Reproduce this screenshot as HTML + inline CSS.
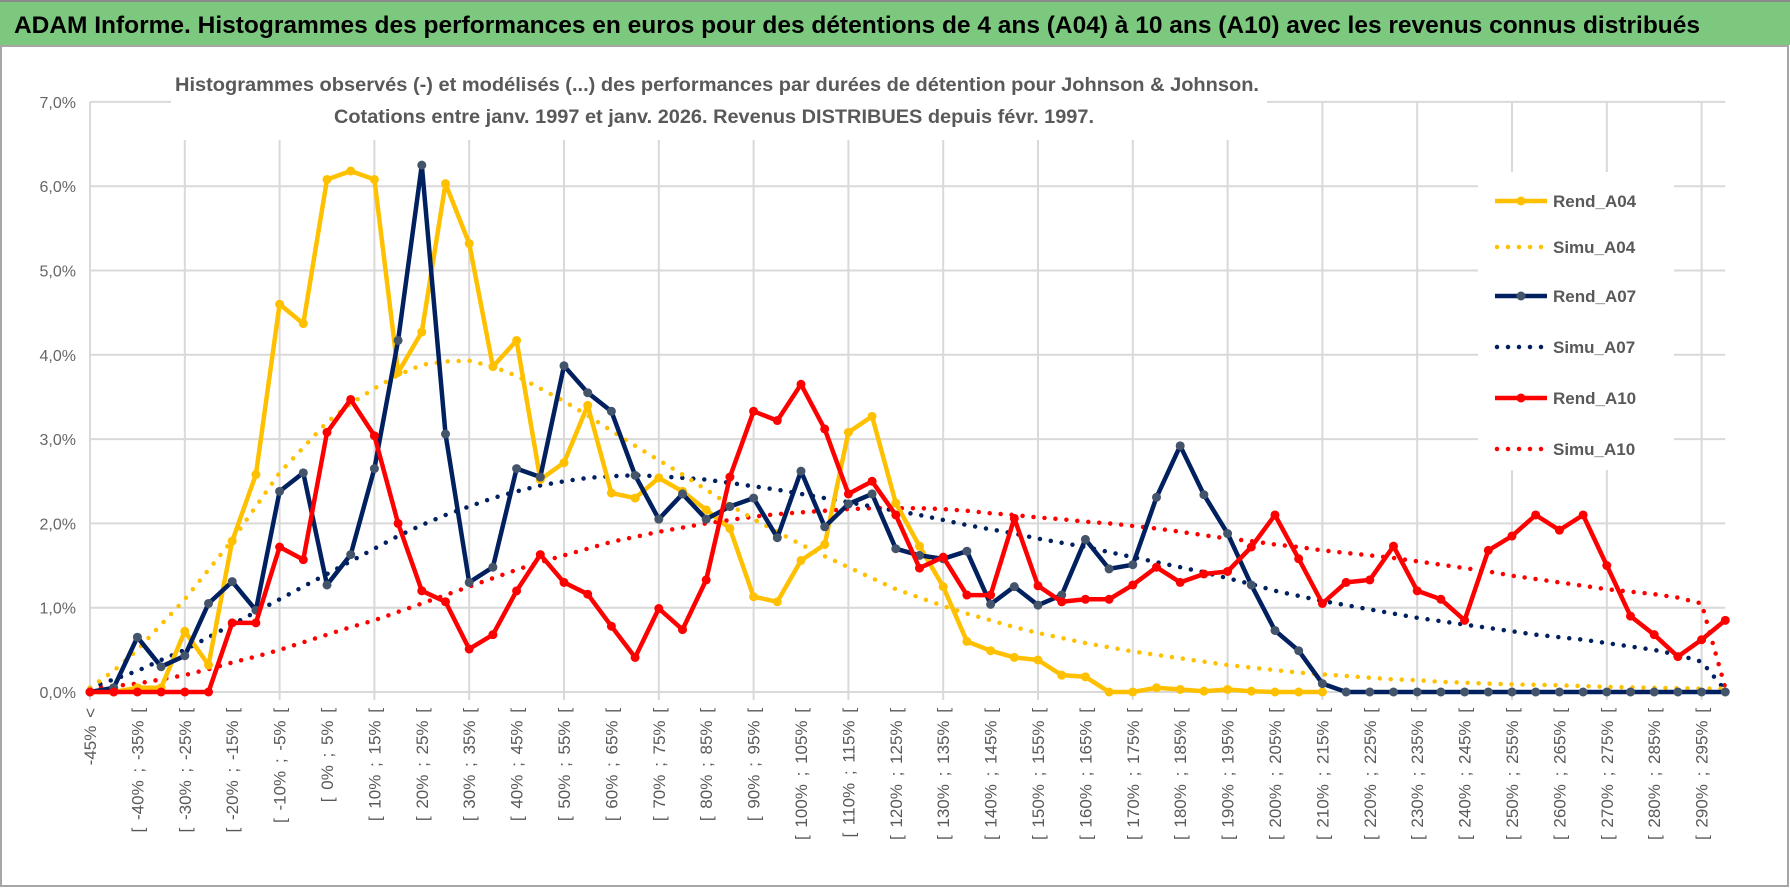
<!DOCTYPE html>
<html><head><meta charset="utf-8"><style>
html,body{margin:0;padding:0;background:#fff;}
svg{display:block;font-family:"Liberation Sans",sans-serif;}
</style></head><body>
<svg id="chart" width="1790" height="888" viewBox="0 0 1790 888" xmlns="http://www.w3.org/2000/svg">
<rect x="0" y="0" width="1790" height="888" fill="#fff"/>
<rect x="1" y="46" width="1787" height="840" fill="none" stroke="#a6a6a6" stroke-width="2"/>
<rect x="0" y="2" width="1790" height="43" fill="#7dc87f"/>
<rect x="0" y="0" width="1790" height="2" fill="#8a8a8a"/>
<text x="14" y="33" font-size="24" font-weight="bold" fill="#000" textLength="1686" lengthAdjust="spacingAndGlyphs">ADAM Informe. Histogrammes des performances en euros pour des détentions de 4 ans (A04) à 10 ans (A10) avec les revenus connus distribués</text>
<g id="grid"></g>
<g id="yaxis"></g>
<g id="xaxis"></g>
<g id="series"></g>
<rect x="171" y="64" width="1096" height="76" fill="#fff"/>
<text x="717" y="91" text-anchor="middle" font-size="19" font-weight="bold" fill="#595959" textLength="1084" lengthAdjust="spacingAndGlyphs">Histogrammes observés (-) et modélisés (...) des performances par durées de détention pour Johnson &amp; Johnson.</text>
<text x="714" y="123" text-anchor="middle" font-size="19" font-weight="bold" fill="#595959" textLength="760" lengthAdjust="spacingAndGlyphs">Cotations entre janv. 1997 et janv. 2026. Revenus DISTRIBUES depuis févr. 1997.</text>
<g id="legend"></g>
</svg>
<script>
const categories = (function(){ const c=["-45% <"]; for(let b=-45;b<300;b+=5){ c.push("[ "+b+"% ; "+(b+5)+"% ["); } return c; })();
const yTicks = [0,1,2,3,4,5,6,7];
const yTickLabels = ["0,0%","1,0%","2,0%","3,0%","4,0%","5,0%","6,0%","7,0%"];
const rendA04 = [0,0,0.05,0.05,0.72,0.32,1.79,2.58,4.6,4.37,6.08,6.18,6.08,3.79,4.27,6.03,5.32,3.86,4.17,2.52,2.72,3.4,2.36,2.3,2.54,2.38,2.16,1.94,1.13,1.07,1.56,1.75,3.08,3.27,2.24,1.73,1.25,0.6,0.49,0.41,0.38,0.2,0.18,0,0,0.05,0.03,0.01,0.03,0.01,0,0,0];
const simuA04 = [0.05,0.25,0.5,0.8,1.1,1.45,1.8,2.2,2.6,2.9,3.2,3.42,3.6,3.76,3.88,3.92,3.93,3.86,3.75,3.6,3.45,3.28,3.1,2.92,2.75,2.58,2.4,2.22,2.05,1.9,1.75,1.61,1.48,1.35,1.22,1.12,1.02,0.93,0.85,0.77,0.7,0.64,0.58,0.53,0.48,0.44,0.4,0.36,0.32,0.29,0.26,0.23,0.21,0.19,0.17,0.15,0.14,0.12,0.11,0.1,0.09,0.085,0.08,0.07,0.06,0.055,0.05,0.045,0.04,0.04];
const rendA07 = [0,0.05,0.65,0.3,0.43,1.05,1.31,0.97,2.38,2.6,1.27,1.63,2.65,4.17,6.25,3.06,1.3,1.48,2.65,2.55,3.87,3.55,3.33,2.57,2.05,2.35,2.05,2.2,2.3,1.83,2.62,1.96,2.23,2.35,1.7,1.62,1.58,1.67,1.04,1.25,1.03,1.15,1.81,1.46,1.51,2.31,2.92,2.34,1.88,1.27,0.73,0.49,0.1,0,0,0,0,0,0,0,0,0,0,0,0,0,0,0,0,0];
const simuA07 = [0.05,0.15,0.25,0.38,0.5,0.65,0.8,0.95,1.1,1.25,1.4,1.55,1.7,1.85,1.98,2.1,2.2,2.3,2.38,2.45,2.5,2.54,2.56,2.57,2.56,2.54,2.52,2.48,2.44,2.4,2.35,2.3,2.25,2.2,2.15,2.1,2.04,1.98,1.93,1.88,1.82,1.77,1.72,1.66,1.6,1.54,1.48,1.42,1.35,1.28,1.2,1.14,1.08,1.03,0.98,0.93,0.88,0.84,0.8,0.76,0.72,0.68,0.65,0.62,0.58,0.54,0.5,0.44,0.36,0.02];
const rendA10 = [0,0,0,0,0,0,0.82,0.82,1.72,1.57,3.08,3.47,3.04,2.0,1.2,1.07,0.51,0.68,1.2,1.63,1.3,1.16,0.78,0.41,0.99,0.74,1.33,2.55,3.33,3.22,3.65,3.12,2.35,2.5,2.1,1.47,1.6,1.15,1.15,2.06,1.26,1.07,1.1,1.1,1.27,1.48,1.3,1.4,1.43,1.72,2.1,1.58,1.05,1.3,1.33,1.73,1.2,1.1,0.85,1.68,1.85,2.1,1.92,2.1,1.5,0.9,0.68,0.42,0.62,0.85];
const simuA10 = [0.05,0.07,0.1,0.15,0.2,0.27,0.35,0.42,0.5,0.59,0.68,0.77,0.85,0.95,1.05,1.15,1.25,1.35,1.45,1.54,1.62,1.7,1.78,1.84,1.9,1.95,2.0,2.04,2.08,2.11,2.13,2.15,2.17,2.18,2.18,2.18,2.17,2.15,2.12,2.1,2.07,2.05,2.02,2.0,1.97,1.94,1.9,1.86,1.82,1.79,1.75,1.72,1.68,1.65,1.62,1.59,1.55,1.51,1.47,1.43,1.38,1.34,1.3,1.26,1.22,1.19,1.16,1.12,1.05,0.05];

const NS="http://www.w3.org/2000/svg";
const X0=90, DX=23.7, Y0=692, DY=84.3;
function xPos(i){ return X0+i*DX; }
function yPos(v){ return Y0-v*DY; }
function mk(tag, attrs, parent){ const e=document.createElementNS(NS,tag); for(const k in attrs) e.setAttribute(k,attrs[k]); parent.appendChild(e); return e; }

const grid=document.getElementById('grid');
yTicks.forEach(function(t){
  const l=mk('line',{x1:X0,x2:xPos(categories.length-1),y1:yPos(t),y2:yPos(t),stroke:'#d9d9d9','stroke-width':2},grid);
  
  
});
for(let i=0;i<categories.length;i+=4){
  const l=mk('line',{x1:xPos(i),x2:xPos(i),y1:yPos(7),y2:Y0+8,stroke:'#d9d9d9','stroke-width':2},grid);
  
  
}
const ya=document.getElementById('yaxis');
yTicks.forEach(function(t,k){
  const tx=mk('text',{x:76,y:yPos(t)+6,'text-anchor':'end','font-size':16,fill:'#666'},ya);
  tx.textContent=yTickLabels[k];
  
  
});
const xa=document.getElementById('xaxis');
categories.forEach(function(c,i){
  if(i%2!==0) return;
  const x=xPos(i)+6, y=708;
  const tx=mk('text',{x:x,y:y,'text-anchor':'end','font-size':17,'word-spacing':3,fill:'#595959',transform:'rotate(-90 '+x+' '+y+')'},xa);
  tx.textContent=c;
  
  
});
const sg=document.getElementById('series');
function pts(arr){ return arr.map(function(v,i){return xPos(i).toFixed(1)+','+yPos(v).toFixed(1);}).join(' '); }
function dotted(arr,color,name){
  const p=mk('polyline',{points:pts(arr),fill:'none',stroke:color,'stroke-width':4.5,'stroke-linecap':'round','stroke-dasharray':'0 11'},sg);
  
  
}
function solid(arr,color,mcolor,name){
  const p=mk('polyline',{points:pts(arr),fill:'none',stroke:color,'stroke-width':4.5,'stroke-linejoin':'round'},sg);
  
  
  arr.forEach(function(v,i){
    const m=mk('circle',{cx:xPos(i),cy:yPos(v),r:4.5,fill:mcolor},sg);
    
    
  });
}
dotted(simuA10,'#ff0000','simu-a10-line');
dotted(simuA07,'#002060','simu-a07-line');
dotted(simuA04,'#ffc000','simu-a04-line');
solid(rendA04,'#ffc000','#ffc000','rend-a04-line');
solid(rendA07,'#002060','#44546a','rend-a07-line');
solid(rendA10,'#ff0000','#ff0000','rend-a10-line');

const lg=document.getElementById('legend');
const bg=mk('rect',{x:1478,y:172,width:196,height:298,fill:'#fff'},lg);


const legendItems=[["Rend_A04","#ffc000",false],["Simu_A04","#ffc000",true],["Rend_A07","#002060",false],["Simu_A07","#002060",true],["Rend_A10","#ff0000",false],["Simu_A10","#ff0000",true]];
const legendYs=[201,247,296,347,398,449];
legendItems.forEach(function(it,k){
  const y=legendYs[k];
  const g=mk('g',{},lg);
  
  
  if(it[2]){
    mk('line',{x1:1497,x2:1547,y1:y,y2:y,stroke:it[1],'stroke-width':4.5,'stroke-linecap':'round','stroke-dasharray':'0 11'},g);
  } else {
    mk('line',{x1:1495,x2:1547,y1:y,y2:y,stroke:it[1],'stroke-width':4.5},g);
    mk('circle',{cx:1521,cy:y,r:4.5,fill:k===2?'#44546a':it[1]},g);
  }
  const t=mk('text',{x:1553,y:y+6,'font-size':17,'font-weight':'bold',fill:'#595959'},g);
  t.textContent=it[0];
});
</script>
</body></html>
